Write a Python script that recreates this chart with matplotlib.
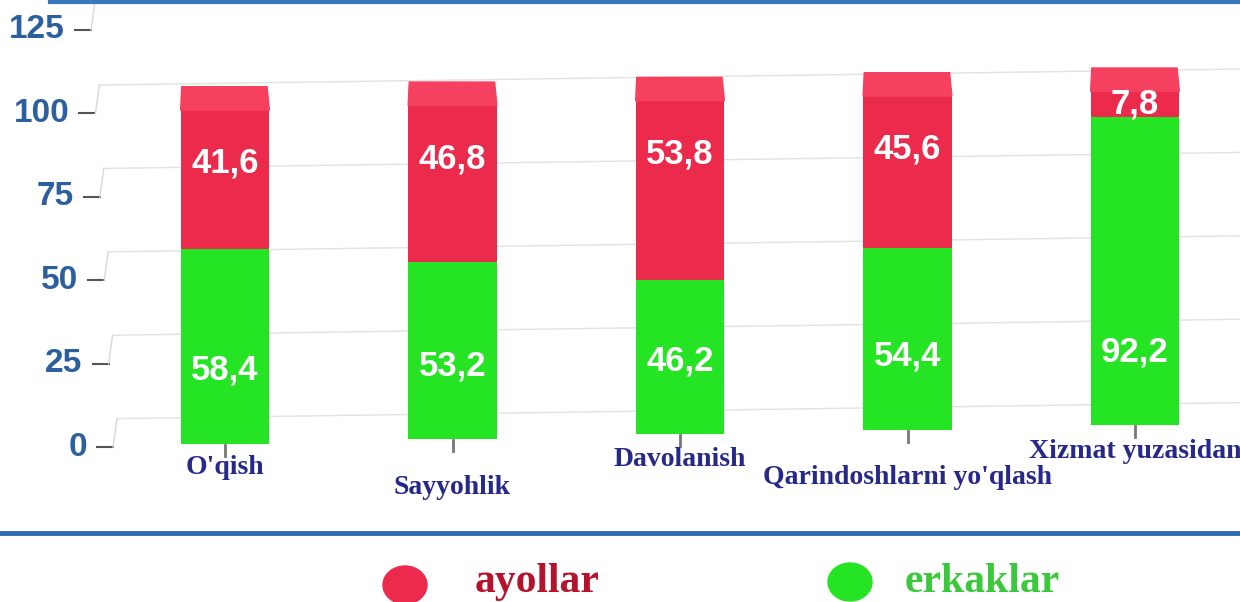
import numpy as np
import matplotlib.pyplot as plt
import matplotlib.transforms as mtransforms
from matplotlib.patches import Polygon, Ellipse

# --- data ---
categories = ["O'qish", "Sayyohlik", "Davolanish", "Qarindoshlarni yo'qlash", "Xizmat yuzasidan"]
erkaklar = [58.4, 53.2, 46.2, 54.4, 92.2]
ayollar = [41.6, 46.8, 53.8, 45.6, 7.8]
y_ticks = [0, 25, 50, 75, 100, 125]

# --- style ---
W, H = 1240, 602
red, red_top, green = '#EC2A4C', '#F5405F', '#24E424'
label_y_px = [467, 487, 460, 478, 451]   # staggered category labels
shift_step = 1.4                         # fake perspective: bars rise to the right
bar_w = 0.39

fig = plt.figure(figsize=(W / 100, H / 100), dpi=100)
ax = fig.add_axes([0, 1 - 447 / H, 1, 417 / H])
ax.set_xlim(-225 / 227.5, (W - 225) / 227.5)
ax.set_ylim(0, 125)
ax.axis('off')

fig_y = mtransforms.blended_transform_factory(fig.transFigure, ax.transData)
x_fig = mtransforms.blended_transform_factory(ax.transData, fig.transFigure)

# y axis: ticks, little 3D wall edges and back gridlines
for v in y_ticks:
    r = 87 - v * 0.176
    ax.text(r / W, v, str(v), transform=fig_y, ha='right', va='center',
            fontsize=24, fontweight='bold', family='Liberation Sans', color='#2C5F9E')
    ax.plot([(r + 10) / W, (r + 26) / W], [v, v], transform=fig_y,
            color='#555555', lw=1.5, clip_on=False)
    ax.plot([(r + 26) / W, (r + 30) / W], [v, v + 8.5], transform=fig_y,
            color='#d8d8d8', lw=1, clip_on=False)
    ax.plot([(r + 30) / W, 1], [v + 8.5, v + 13.3], transform=fig_y,
            color='#e2e2e2', lw=1, clip_on=False, zorder=1)

# stacked bars
x = np.arange(len(categories))
base = 1 + shift_step * x
erk = np.array(erkaklar)
ayo = np.array(ayollar)
ax.bar(x, erk, width=bar_w, bottom=base, color=green, zorder=3)
ax.bar(x, ayo, width=bar_w, bottom=base + erk, color=red, zorder=3)

for i in x:
    top = base[i] + erk[i] + ayo[i]
    ax.add_patch(Polygon([(i - bar_w / 2, top), (i + bar_w / 2, top),
                          (i + bar_w / 2 - 0.01, top + 7), (i - bar_w / 2 + 0.005, top + 7)],
                         closed=True, color=red_top, zorder=3, clip_on=False))
    # value labels
    ax.text(i, base[i] + min(erk[i] / 2, 22), f"{erk[i]:.1f}".replace('.', ','),
            ha='center', va='center', color='white', fontsize=25, fontweight='bold',
            family='Liberation Sans', zorder=4)
    ax.text(i, base[i] + 100 - min(ayo[i] / 2, 16), f"{ayo[i]:.1f}".replace('.', ','),
            ha='center', va='center', color='white', fontsize=25, fontweight='bold',
            family='Liberation Sans', zorder=4)
    # category ticks and labels
    ax.plot([i, i], [base[i] - 0.3, base[i] - 3.6], color='#777777', lw=2, clip_on=False)
    ax.text(i, 1 - label_y_px[i] / H, categories[i], transform=x_fig,
            ha='center', va='center', fontsize=20, fontweight='bold',
            family='Liberation Serif', color='#26288A')

# frame lines
fig.add_artist(plt.Line2D([50 / W, 1], [1 - 2 / H, 1 - 2 / H], color='#3A76BE', lw=3))
fig.add_artist(plt.Line2D([0, 1], [1 - 533 / H, 1 - 533 / H], color='#2E6AB0', lw=3.5))

# legend
fig.add_artist(Ellipse((405 / W, 1 - 585 / H), 44 / W, 38 / H, transform=fig.transFigure, color=red))
fig.add_artist(Ellipse((850 / W, 1 - 582 / H), 44 / W, 38 / H, transform=fig.transFigure, color=green))
fig.text(475 / W, 1 - 592 / H, 'ayollar', va='baseline', fontsize=30, fontweight='bold',
         family='Liberation Serif', color='#B5122E')
fig.text(905 / W, 1 - 592 / H, 'erkaklar', va='baseline', fontsize=30, fontweight='bold',
         family='Liberation Serif', color='#3CC83C')

fig.savefig('out.png', dpi=100)
